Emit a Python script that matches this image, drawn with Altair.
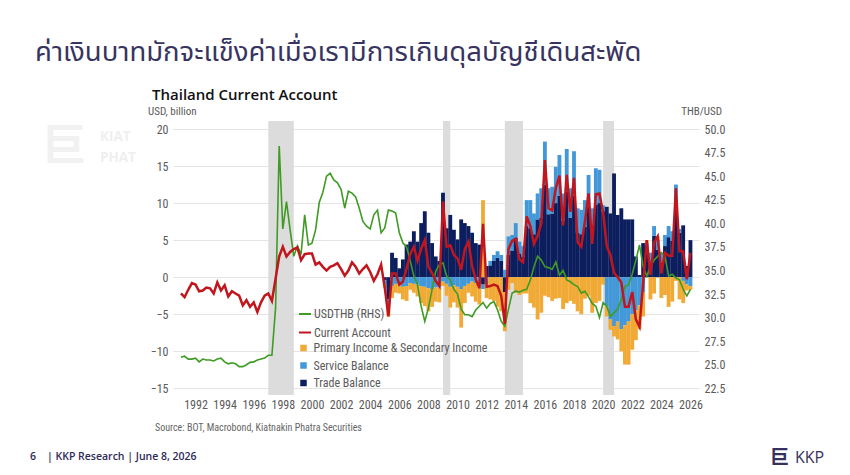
import altair as alt
import pandas as pd

# ---------------- data (quarterly) ----------------
# Current account, USD bn, 1991Q1 .. 2026Q1
ca = [-2.2, -2.7, -1.7, -0.8, -1.0, -1.9, -1.8, -1.4, -1.5, -2.2,
      -0.7, -1.8, -1.1, -2.6, -1.9, -2.2, -2.5, -3.8, -3.1, -4.0,
      -3.4, -4.7, -3.4, -2.5, -2.2, -3.2, -0.2, 2.8, 4.1, 2.8,
      3.4, 3.8, 4.0, 2.3, 3.1, 3.2, 3.2, 1.7, 2.0, 1.4,
      0.9, 1.4, 1.6, 1.9, 1.1, 0.2, 0.9, 2.0, 1.4, 0.5,
      1.1, 1.6, 0.7, -0.5, 0.4, 1.7,
      -1.4, -5.3, 0.5, 0.5, -1.0, -0.6, 1.2, 3.1, 4.1, 2.2,
      3.8, 5.0, 1.4, 0.6, -0.5, -1.2, 10.2, 4.1, 4.3, 3.0,
      2.5, 1.0, 3.8, 4.8, 1.5, -0.3, -1.5, 7.2, -1.3, -1.2,
      -1.0, -1.2, -2.5, -6.3, 3.8, 4.9, 5.2, 2.4, 2.0, 8.2,
      6.9, 4.5, 5.6, 7.2, 15.8, 9.3, 9.0, 12.0, 13.7, 7.0,
      13.8, 8.8, 13.4, 4.7, 4.1, 7.5, 11.3, 4.5, 11.2, 11.3,
      8.7, 4.2, 3.0, 0.6, 0.0, -0.7, -4.0, -4.0, -2.0, -5.7,
      -6.7, -0.7, 5.0, 0.3, 4.7, 5.5, 0.5, 3.3, 2.9, 2.9,
      12.0, 3.5, 3.5, -0.3, 3.3]

# USDTHB, 1991Q1 .. 2026Q1
fx = [25.8, 25.9, 25.6, 25.6, 25.7, 25.3, 25.6, 25.5, 25.5, 25.4,
      25.6, 25.7, 25.3, 25.1, 25.2, 25.1, 24.8, 24.8, 25.0, 25.25,
      25.3, 25.5, 25.6, 25.7, 26.0, 26.0, 31.0, 48.2, 39.4, 42.3,
      39.3, 36.5, 37.6, 36.7, 40.9, 37.7, 37.9, 39.3, 42.2, 43.3,
      45.0, 45.3, 44.6, 44.3, 43.6, 41.6, 43.4, 43.2, 42.8, 41.6,
      40.2, 39.7, 39.4, 40.9, 41.4, 39.0,
      39.5, 41.4, 41.3, 41.1, 39.0, 37.9, 37.5, 36.0, 34.4, 33.5,
      31.2, 29.6, 31.0, 33.0, 34.9, 35.6, 35.8, 34.4, 34.0, 33.0,
      32.5, 30.9, 30.3, 30.3, 30.1, 30.8, 31.2, 31.6, 31.0, 31.5,
      31.7, 30.8, 29.6, 29.1, 30.9, 32.6, 32.8, 32.7, 32.9, 33.0,
      34.0, 35.4, 36.5, 36.1, 35.4, 35.3, 35.1, 35.9, 34.5, 35.0,
      34.0, 33.8, 33.5, 33.3, 32.6, 32.8, 32.2, 31.5, 31.2, 30.0,
      31.6, 31.2, 30.1, 30.5, 30.9, 31.9, 33.3, 33.5, 34.6, 36.1,
      37.7, 35.4, 34.4, 35.4, 36.1, 36.5, 36.9, 36.5, 34.4, 34.6,
      34.2, 34.0, 33.0, 32.3, 33.0]

# Components, USD bn, 2005Q1 .. 2026Q1
trade = [-0.4, -3.0, 3.3, 2.6, 1.2, 2.4, 4.4, 4.8, 6.2, 4.8,
         7.3, 8.9, 6.0, 4.6, 2.8, 2.2, 11.4, 6.6, 8.4, 6.4,
         5.1, 7.8, 7.3, 6.9, 6.0, 4.6, 4.4, -1.0, 1.5, 1.6,
         2.2, 2.6, 2.2, -2.0, 3.0, 3.6, 5.3, 3.2, 2.8, 6.9,
         6.6, 5.8, 7.8, 8.0, 12.5, 8.5, 8.6, 10.0, 11.0, 7.6,
         11.5, 8.0, 11.0, 6.0, 5.8, 6.8, 9.5, 6.2, 9.8, 10.0,
         8.9, 9.5, 8.6, 14.0, 8.4, 9.3, 7.8, 7.8, 7.8, 2.8,
         0.3, 4.6, 4.0, 2.0, 5.6, 3.7, 2.0, 4.2, 5.4, 4.9,
         9.5, 6.0, 7.0, 1.5, 5.0]
services = [-0.6, -1.0, -1.2, -0.9, -1.0, -1.3, -1.2, -0.8, -0.9, -1.0,
            -1.2, -1.3, -1.5, -1.6, -1.4, -1.4, -0.6, -0.9, -1.3, -1.1,
            -1.3, -1.6, -1.2, -0.9, -0.6, -0.8, -0.7, -0.6, -0.9, 0.6,
            0.8, 0.9, 0.8, 1.0, 2.5, 2.1, 2.0, 1.6, 1.4, 3.5,
            3.8, 2.8, 3.5, 4.0, 5.8, 3.5, 3.6, 4.9, 5.5, 3.7,
            5.8, 4.0, 6.0, 3.3, 3.3, 3.6, 4.3, 3.1, 4.9, 4.5,
            0.8, -3.9, -5.7, -6.6, -6.0, -7.0, -6.5, -6.0, -5.0, -4.5,
            -3.8, -2.0, 0.6, 1.3, 1.3, 1.3, 1.3, 1.5, 1.5, 1.3,
            3.0, 0.5, -0.5, -1.0, -1.2]
income = [-0.4, -1.3, -1.6, -1.2, -1.2, -1.7, -2.0, -0.9, -1.2, -1.6,
          -2.3, -2.6, -3.1, -2.4, -1.9, -2.0, -0.6, -1.6, -2.8, -2.3,
          -2.8, -5.2, -2.3, -1.2, -2.0, -2.5, -3.0, 10.4, -1.9, -3.0,
          -3.2, -4.0, -4.6, -5.3, -1.7, -0.8, -2.1, -2.4, -2.2, -2.2,
          -3.5, -4.1, -5.7, -4.8, -2.5, -2.7, -3.2, -2.9, -2.8, -4.3,
          -3.5, -3.2, -3.6, -4.6, -5.0, -2.9, -2.5, -4.8, -3.5, -3.2,
          -1.0, -1.4, -1.4, -1.4, -2.4, -3.0, -5.3, -5.8, -4.8, -4.0,
          -3.2, -3.3, 0.4, -3.0, -2.2, 0.5, -2.8, -2.4, -4.0, -3.3,
          -0.5, -3.0, -3.0, -0.8, -0.5]

band_start = [1997.0, 2009.0, 2013.25, 2020.0]
band_end = [1998.75, 2009.5, 2014.5, 2020.75]

x_ticks = list(range(1992, 2027, 2))
left_ticks = [-15, -10, -5, 0, 5, 10, 15, 20]
right_ticks = [22.5, 25.0, 27.5, 30.0, 32.5, 35.0, 37.5, 40.0, 42.5, 45.0, 47.5, 50.0]

line_names = ["USDTHB (RHS)", "Current Account"]
line_colors = ["#3f9b24", "#c1161d"]
bar_names = ["Primary Income & Secondary Income", "Service Balance", "Trade Balance"]
bar_colors = ["#f0aa35", "#4298d8", "#0c1e5e"]

title_th = "ค่าเงินบาทมักจะแข็งค่าเมื่อเรามีการเกินดุลบัญชีเดินสะพัด"
subtitle = "Thailand Current Account"
left_unit = "USD, billion"
right_unit = "THB/USD"
source = "Source: BOT, Macrobond, Kiatnakin Phatra Securities"
footer = "| KKP Research | June 8, 2026"
page_no = "6"

# ---------------- frames ----------------
t_q = [1991 + i / 4 for i in range(len(ca))]
t_b = [2005 + i / 4 for i in range(len(trade))]
df_ca = pd.DataFrame({"t": t_q, "v": ca, "s": line_names[1]})
df_fx = pd.DataFrame({"t": t_q, "v": fx, "s": line_names[0]})
rows = []
for i, t in enumerate(t_b):
    rows.append({"t": t, "s": bar_names[2], "v": trade[i], "o": 0})
    rows.append({"t": t, "s": bar_names[1], "v": services[i], "o": 1})
    rows.append({"t": t, "s": bar_names[0], "v": income[i], "o": 2})
df_bar = pd.DataFrame(rows)
df_band = pd.DataFrame({"a": band_start, "b": band_end})
one = pd.DataFrame({"k": [0]})

W, H = 526, 274
X0, Y0 = 173, 121
FONT = "Liberation Sans Narrow, Roboto Condensed, Roboto, sans-serif"
LABEL = "#5a5a5a"

xscale = alt.Scale(domain=[1990.798, 2026.243], nice=False, zero=False)
xaxis = alt.Axis(values=x_ticks, format="d", labelFont=FONT, labelFontSize=12,
                 labelColor=LABEL, ticks=False, domain=False, grid=False,
                 labelPadding=4, title=None, labelFlush=False)
lscale = alt.Scale(domain=[-15.9, 21.08], nice=False, zero=False)
rscale = alt.Scale(domain=[21.79, 50.85], nice=False, zero=False)

bands = alt.Chart(df_band).mark_rect(color="#dcdcdc").encode(
    x=alt.X("a:Q", scale=xscale, axis=xaxis), x2="b:Q",
    y=alt.value(0), y2=alt.value(H))

bars = alt.Chart(df_bar).mark_bar(size=3.85).encode(
    x=alt.X("t:Q", scale=xscale, axis=xaxis),
    y=alt.Y("v:Q", stack="zero", scale=lscale,
            axis=alt.Axis(orient="left", values=left_ticks, labelFont=FONT,
                          labelFontSize=12, labelColor=LABEL, ticks=False,
                          domain=False, grid=True, gridColor="#e4e4e4",
                          labelPadding=5, title=None)),
    color=alt.Color("s:N", scale=alt.Scale(domain=bar_names, range=bar_colors),
                    legend=alt.Legend(orient="none", legendX=124.5, legendY=221,
                                      title=None, symbolType="square", symbolSize=42,
                                      symbolStrokeWidth=0, labelFont=FONT,
                                      labelFontSize=12, labelColor=LABEL,
                                      labelOffset=4, labelLimit=0,
                                      rowPadding=5.5, padding=0)),
    order=alt.Order("o:Q", sort="ascending"))

line_legend = alt.Legend(orient="none", legendX=125, legendY=186, title=None,
                         symbolType="stroke", symbolSize=144, symbolStrokeWidth=2,
                         labelFont=FONT, labelFontSize=12, labelColor=LABEL,
                         labelOffset=2, labelLimit=0, rowPadding=5.5, padding=0)
stroke_enc = alt.Stroke("s:N", scale=alt.Scale(domain=line_names, range=line_colors),
                        legend=line_legend)

fx_line = alt.Chart(df_fx).mark_line(strokeWidth=1.6).encode(
    x=alt.X("t:Q", scale=xscale, axis=xaxis),
    y=alt.Y("v:Q", scale=rscale,
            axis=alt.Axis(orient="right", values=right_ticks, format=".1f",
                          labelFont=FONT, labelFontSize=12, labelColor=LABEL,
                          ticks=False, domain=False, grid=False, labelPadding=5,
                          title=None)),
    stroke=stroke_enc)

ca_line = alt.Chart(df_ca).mark_line(strokeWidth=2.5).encode(
    x=alt.X("t:Q", scale=xscale, axis=xaxis),
    y=alt.Y("v:Q", scale=lscale, axis=None),
    stroke=stroke_enc)


def txt(s, x, y, size, color, weight="normal", font=FONT, align="left", baseline="alphabetic"):
    return alt.Chart(one).mark_text(text=s, fontSize=size, color=color, fontWeight=weight,
                                    font=font, align=align, baseline=baseline).encode(
        x=alt.value(x - X0), y=alt.value(y - Y0))


TH_FONT = "Noto Sans Thai, Kanit, Prompt, Tahoma, sans-serif"
texts = [
    txt(title_th, 35, 61, 27.5, "#37345f", font=TH_FONT),
    txt(subtitle, 152, 100, 15, "#111111", weight=600, font="Open Sans, sans-serif"),
    txt(left_unit, 148, 112, 11, LABEL, baseline="middle"),
    txt(right_unit, 722, 112, 11, LABEL, align="right", baseline="middle"),
    txt(source, 155, 428, 10, "#666666", baseline="middle"),
    txt(page_no, 30, 457, 10.5, "#2e2a5a", weight=600, font="Open Sans, sans-serif", baseline="middle"),
    txt(footer, 47, 457, 10.5, "#2e2a5a", weight=600, font="Open Sans, sans-serif", baseline="middle"),
    txt("KKP", 795, 458, 16, "#36325e", font="Open Sans, sans-serif", baseline="middle"),
    txt("巨", 770, 458, 19, "#36325e", weight="bold", font="Noto Sans CJK SC", baseline="middle"),
    txt("巨", 42, 148, 44, "#f1f1f1", weight="bold", font="Noto Sans CJK SC", baseline="middle"),
    txt("KIAT", 100, 137, 13.5, "#efefef", weight="bold", font="Open Sans, sans-serif", baseline="middle"),
    txt("PHAT", 100, 158, 13.5, "#efefef", weight="bold", font="Open Sans, sans-serif", baseline="middle"),
]

chart = alt.layer(bands, bars, fx_line, ca_line, *texts).resolve_scale(
    y="independent"
).properties(
    width=W, height=H,
    autosize=alt.AutoSizeParams(type="none"),
    padding={"left": X0, "top": Y0, "right": 850 - X0 - W, "bottom": 475 - Y0 - H},
    background="white",
).configure_view(stroke=None)

chart.save("out.html", embed_options={"renderer": "svg", "actions": False})
